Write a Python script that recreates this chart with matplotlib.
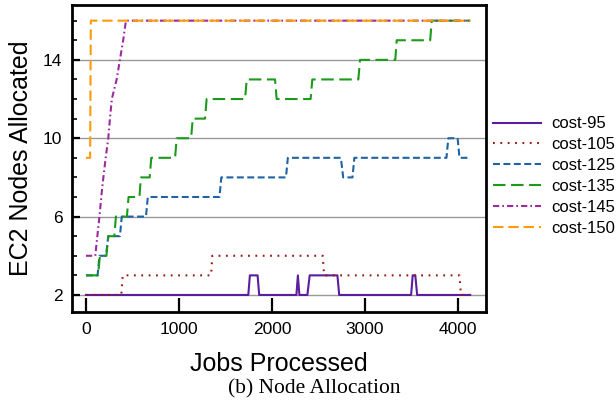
import matplotlib

matplotlib.use("Agg")
import matplotlib.pyplot as plt  # noqa: E402

plt.rcParams.update({
    "font.family": ["Liberation Sans", "DejaVu Sans"],
    "lines.scale_dashes": False,
})

# (jobs processed, nodes allocated) breakpoints
X95 = [0, 1745, 1762, 1845, 1862, 2262, 2278, 2294, 2380, 2405, 2703, 2722,
       3495, 3512, 3540, 3560, 4130]
Y95 = [2, 2, 3, 3, 2, 2, 3, 2, 2, 3, 3, 2, 2, 3, 3, 2, 2]

X105 = [0, 380, 395, 1345, 1358, 2545, 2560, 4015, 4030, 4130]
Y105 = [2, 2, 3, 3, 4, 4, 3, 3, 2, 2]

X125 = [0, 125, 145, 215, 240, 365, 385, 645, 665, 1435, 1455, 2150, 2170,
        2740, 2765, 2865, 2885, 3875, 3895, 3995, 4015, 4100]
Y125 = [3, 3, 4, 4, 5, 5, 6, 6, 7, 7, 8, 8, 9, 9, 8, 8, 9, 9, 10, 10, 9, 9]

X135 = [0, 130, 150, 220, 240, 305, 322, 440, 458, 575, 590, 685, 702,
        958, 975, 1130, 1148, 1280, 1297, 1710, 1728, 2032, 2050, 2415,
        2433, 2928, 2946, 3325, 3340, 3700, 3717, 4130]
Y135 = [3, 3, 4, 4, 5, 5, 6, 6, 7, 7, 8, 8, 9, 9, 10, 10, 11, 11, 12, 12,
        13, 13, 12, 12, 13, 13, 14, 14, 15, 15, 16, 16]

X145 = [0, 100, 145, 175, 212, 240, 258, 278, 330, 365, 400, 430, 4130]
Y145 = [4, 4, 6, 7.5, 9, 10, 11, 12, 13, 14, 15, 16, 16]

X150 = [0, 45, 52, 4130]
Y150 = [9, 9, 16, 16]

LABELS = ["cost-95", "cost-105", "cost-125", "cost-135", "cost-145", "cost-150"]
COLORS = ["#5a1e9e", "#9b1a10", "#1f63a3", "#1b9a1b", "#9b2a9e", "#ff9a0a"]
DASHES = [None, (1.3, 4.0), (5.0, 2.5), (9.0, 4.0), (4.5, 2.2, 1.2, 2.2), (7.5, 3.5)]
SERIES = [(X95, Y95), (X105, Y105), (X125, Y125), (X135, Y135), (X145, Y145), (X150, Y150)]

fig = plt.figure(figsize=(6.16, 4.08), dpi=100)
ax = fig.add_axes([72 / 616, 1 - 312 / 408, 414 / 616, 307 / 408])

for (xs, ys), lab, col, dsh in zip(SERIES, LABELS, COLORS, DASHES):
    line, = ax.plot(xs, ys, color=col, lw=1.5, label=lab)
    if dsh is not None:
        line.set_dashes(dsh)

ax.set_xlim(-150, 4300)
ax.set_ylim(1.13, 16.8)
ax.set_xticks([0, 1000, 2000, 3000, 4000])
ax.set_yticks([2, 6, 10, 14])
ax.set_yticks([3, 4, 5, 7, 8, 9, 11, 12, 13, 15, 16], minor=True)
ax.tick_params(axis="both", which="major", direction="in", labelsize=12.5,
               width=1.6, pad=7)
ax.tick_params(axis="y", which="major", length=6)
ax.tick_params(axis="x", which="major", length=10)
ax.tick_params(axis="y", which="minor", direction="in", length=3.5, width=1.2)
ax.tick_params(axis="x", which="minor", bottom=False)
ax.grid(axis="y", which="major", color="#999999", lw=1.0)
ax.set_axisbelow(True)
for s in ax.spines.values():
    s.set_linewidth(2.0)

ax.set_xlabel("Jobs Processed", fontsize=18, labelpad=11)
ax.set_ylabel("EC2 Nodes Allocated", fontsize=18, labelpad=7)

fig.legend(loc="center left", bbox_to_anchor=(493 / 616, 1 - 176 / 408),
           frameon=False, fontsize=12, handlelength=2.9, handletextpad=0.6,
           labelspacing=0.35, borderpad=0, borderaxespad=0)

fig.text(0.51, 1 - 389 / 408, "(b) Node Allocation", ha="center", va="center",
         fontsize=15.5, family=["Liberation Serif", "DejaVu Serif"])

fig.savefig("out.png", dpi=100)
